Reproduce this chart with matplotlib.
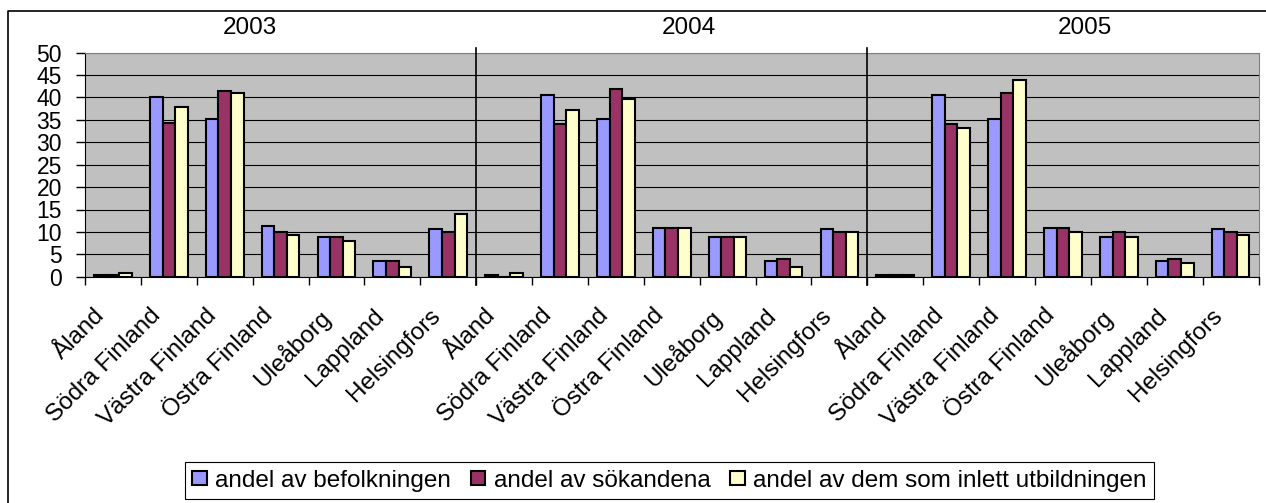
import numpy as np
import matplotlib.pyplot as plt
from matplotlib.lines import Line2D
from matplotlib.transforms import ScaledTranslation

plt.rcParams['font.family'] = ['Liberation Sans', 'DejaVu Sans']

years = ['2003', '2004', '2005']
regions = ['Åland', 'Södra Finland', 'Västra Finland', 'Östra Finland',
           'Uleåborg', 'Lappland', 'Helsingfors']

# values per region, 2003 | 2004 | 2005
befolkning = [0.4, 40.1, 35.3, 11.4, 8.8, 3.4, 10.6,
              0.4, 40.6, 35.3, 10.9, 8.8, 3.4, 10.6,
              0.3, 40.6, 35.3, 10.9, 8.8, 3.4, 10.6]
sokande = [0.4, 34.4, 41.5, 10.0, 8.8, 3.4, 10.0,
           0.0, 34.1, 41.9, 10.9, 8.8, 3.95, 10.0,
           0.3, 34.0, 41.1, 10.9, 10.0, 3.95, 10.0]
inlett = [0.8, 37.9, 41.1, 9.2, 7.9, 2.2, 14.1,
          0.8, 37.1, 39.7, 10.9, 8.8, 2.2, 10.0,
          0.3, 33.1, 43.8, 10.0, 8.8, 3.0, 9.2]
series_names = ['andel av befolkningen', 'andel av sökandena',
                'andel av dem som inlett utbildningen']
colors = ['#9999FF', '#993366', '#FFFFCC']

W, H = 1266, 503
fig = plt.figure(figsize=(W / 100, H / 100), dpi=100)
ax = fig.add_axes([85 / W, 1 - 276.7 / H, (1258.5 - 85) / W, 224 / H])

n = len(regions) * len(years)
x = np.arange(n)
bw = 0.225
for i, (vals, name) in enumerate(zip([befolkning, sokande, inlett], series_names)):
    ax.bar(x + (i - 1) * bw, vals, bw, color=colors[i], edgecolor='black',
           linewidth=1.5, label=name, zorder=3)

ax.set_facecolor('#C0C0C0')
ax.set_xlim(-0.5, n - 0.5)
ax.set_ylim(0, 50)
ax.set_yticks(range(0, 51, 5))
ax.yaxis.grid(True, color='black', linewidth=0.8)
ax.set_axisbelow(True)
ax.tick_params(axis='y', length=6.5, width=1, pad=10, labelsize=16.5)

# category boundaries get the tick marks, labels go under each category
ax.set_xticks(np.arange(-0.5, n))
ax.tick_params(axis='x', length=6, width=1, labelbottom=False)
lab_shift = ScaledTranslation(-19 / 100, -28 / 100, fig.dpi_scale_trans)
for xi, lab in zip(x, regions * len(years)):
    ax.text(xi, 0, lab, transform=ax.get_xaxis_transform() + lab_shift,
            rotation=45, rotation_mode='anchor', ha='right', va='top',
            fontsize=17.5)

for s in ['left', 'bottom']:
    ax.spines[s].set_color('black')
for s in ['top', 'right']:
    ax.spines[s].set_color('#808080')

# year separators
for k in range(1, len(years)):
    ax.axvline(k * len(regions) - 0.5, ymin=-0.036, ymax=1.02, color='black',
               linewidth=1.2, clip_on=False, zorder=4)

year_pos = [2.45, 10.3, 17.4]
for yp, yr in zip(year_pos, years):
    ax.text(yp, 1.11, yr, transform=ax.get_xaxis_transform(), ha='center',
            va='center', fontsize=17.5)

# chart area border (runs off right and bottom edge)
fig.add_artist(Line2D([8 / W, 8 / W, 1.01], [-0.01, 1 - 11 / H, 1 - 11 / H],
                      transform=fig.transFigure, color='black', linewidth=1.2))

leg = fig.legend(loc='center', bbox_to_anchor=(0.5288, 0.0447), ncol=3,
                 fontsize=17.5, fancybox=False, edgecolor='black', framealpha=1,
                 handlelength=0.6, handleheight=0.55, handletextpad=0.35,
                 columnspacing=0.8, borderpad=0.3)
leg.get_frame().set_linewidth(0.8)

fig.savefig('out.png', dpi=100)
